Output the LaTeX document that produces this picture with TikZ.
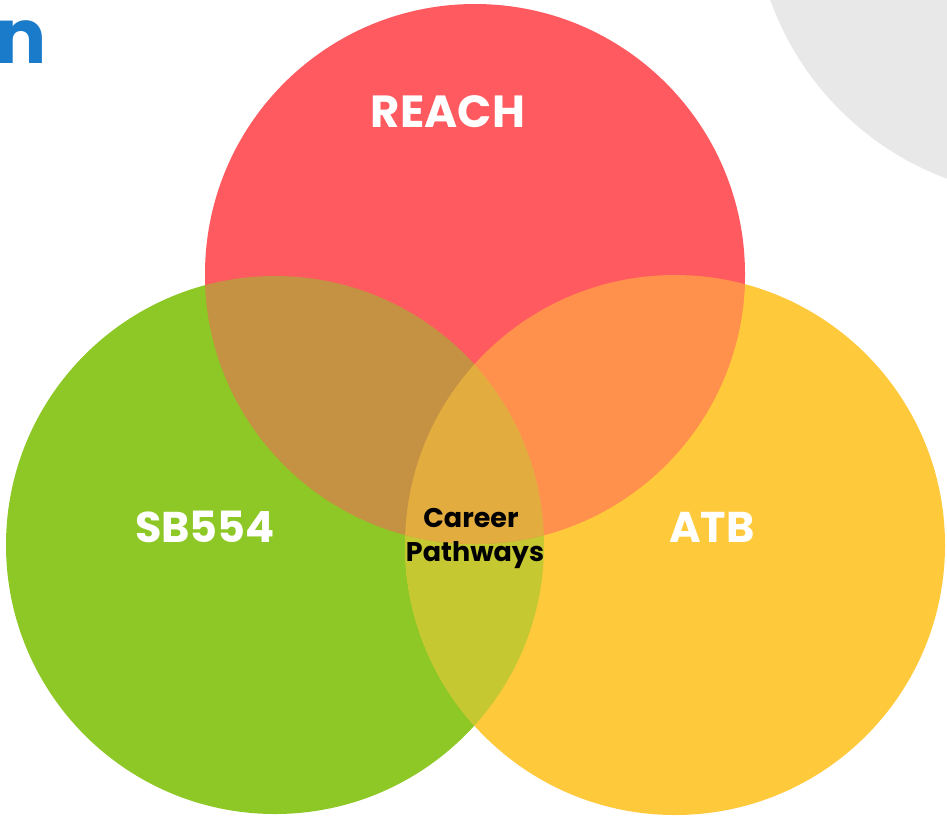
\documentclass[tikz,border=0pt]{standalone}
\usepackage{fontspec}
\setmainfont{Poppins}
\definecolor{cred}{HTML}{FF5A5F}
\definecolor{cgreen}{HTML}{8DC826}
\definecolor{cyellow}{HTML}{FFC93C}
\definecolor{cgray}{HTML}{E8E8E8}
\definecolor{cblue}{HTML}{1A7BCB}
\tikzset{
  biglabel/.style={anchor=base, inner sep=0pt, text=white, font=\fontsize{#1}{#1}\selectfont\bfseries},
  midlabel/.style={anchor=base, inner sep=0pt, text=black, font=\fontsize{27}{27}\selectfont\bfseries}
}
\begin{document}
\begin{tikzpicture}[x=1pt,y=-1pt]
\useasboundingbox (0,0) rectangle (947,815);
\fill[cgray] (1050,-100) circle (297pt);
\node[anchor=base west, inner sep=0pt, text=cblue, font=\fontsize{76}{76}\selectfont\bfseries] (brand) at (-5,63) {n};
% green and yellow
\fill[cgreen] (275,545) circle (269pt);
\fill[cyellow] (675,545) circle (270pt);
\begin{scope}
  \clip (275,545) circle (269pt);
  \fill[cyellow!50!cgreen] (675,545) circle (270pt);
\end{scope}
% red
\fill[cred] (475,274) circle (270pt);
\begin{scope}
  \clip (475,274) circle (270pt);
  \fill[cgreen, fill opacity=0.5] (275,545) circle (269pt);
  \fill[cyellow, fill opacity=0.5] (675,545) circle (270pt);
\end{scope}
\node[biglabel=45] (reach) at (448,127) {REACH};
\node[biglabel=43] (sb) at (205,542) {SB554};
\node[biglabel=43] (atb) at (712,542) {ATB};
\node[midlabel] (career) at (471,527) {Career};
\node[midlabel] (path) at (475,561) {Pathways};
\end{tikzpicture}
\end{document}
